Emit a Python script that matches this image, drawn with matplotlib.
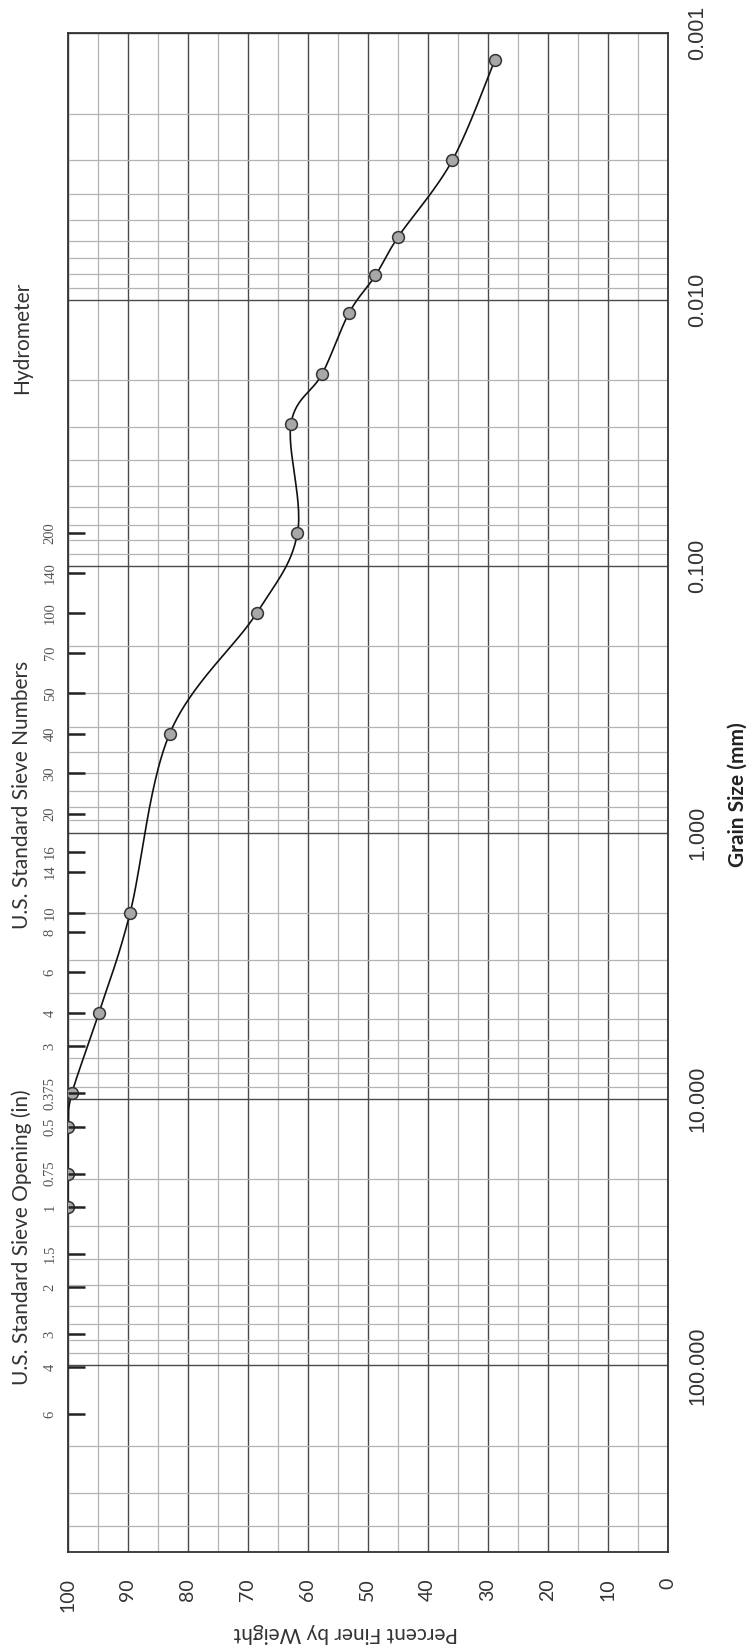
import numpy as np
import matplotlib.pyplot as plt
from matplotlib.ticker import FixedLocator, NullFormatter
import matplotlib.transforms as mtransforms

# grain size (mm) and percent finer
grain_mm = [25.4, 19.05, 12.7, 9.525, 4.75, 2.0, 0.425, 0.15, 0.075,
            0.0293, 0.0190, 0.0112, 0.0081, 0.0058, 0.0030, 0.00126]
pct_finer = [100.0, 100.0, 99.9, 99.3, 94.8, 89.6, 83.0, 68.5, 61.7,
             62.8, 57.6, 53.1, 48.7, 44.9, 35.9, 28.8]

opening_in = ["0.375", "0.5", "0.75", "1", "1.5", "2", "3", "4", "6"]
opening_mm = [9.525, 12.7, 19.05, 25.4, 38.1, 50.8, 76.2, 101.6, 152.4]
sieve_no = ["3", "4", "6", "8", "10", "14", "16", "20", "30", "40", "50",
            "70", "100", "140", "200"]
sieve_mm = [6.35, 4.75, 3.35, 2.36, 2.0, 1.4, 1.18, 0.85, 0.6, 0.425, 0.3,
            0.212, 0.15, 0.106, 0.075]

decades = [0.001, 0.01, 0.1, 1, 10, 100]
decade_labels = ["0.001", "0.010", "0.100", "1.000", "10.000", "100.000"]
pct_ticks = list(range(0, 101, 10))

SANS = ["Lato", "DejaVu Sans"]


def smooth_curve(x, y, n=30):
    # Excel-like smoothed line (Catmull-Rom style bezier)
    p = np.column_stack([x, y])
    p = np.vstack([p[0], p, p[-1]])
    out = []
    t = np.linspace(0, 1, n)[:, None]
    for i in range(1, len(p) - 2):
        p0, p1, p2, p3 = p[i - 1], p[i], p[i + 1], p[i + 2]
        c1 = p1 + (p2 - p0) / 6
        c2 = p2 - (p3 - p1) / 6
        seg = ((1 - t) ** 3) * p1 + 3 * ((1 - t) ** 2) * t * c1 \
            + 3 * (1 - t) * t ** 2 * c2 + t ** 3 * p2
        out.append(seg)
    out = np.vstack(out)
    return out[:, 0], out[:, 1]


fig = plt.figure(figsize=(7.49, 16.5), dpi=100)
ax = fig.add_axes([67.7 / 749, 1 - 1551.7 / 1650, 600 / 749, 1518.4 / 1650])

ax.set_yscale("log")
ax.set_xlim(100, 0)
ax.set_ylim(500, 0.001)

# grid
ax.set_xticks(pct_ticks)
ax.xaxis.set_minor_locator(FixedLocator(range(5, 100, 10)))
ax.yaxis.set_major_locator(FixedLocator(decades))
minors = [m * d for d in decades for m in range(2, 10) if m * d < 500]
ax.yaxis.set_minor_locator(FixedLocator(minors))
ax.yaxis.set_minor_formatter(NullFormatter())
ax.grid(which="major", color="#4a4a4a", lw=1.0)
ax.grid(which="minor", color="#b4b4b4", lw=0.9)
ax.set_axisbelow(True)

# percent labels (bottom), rotated with the page
ax.set_xticklabels([str(v) for v in pct_ticks], rotation=90,
                   fontsize=14, family=SANS, color="#333333")
ax.tick_params(axis="x", which="both", length=0, pad=19)

# grain size labels on the right
ax.yaxis.tick_right()
ax.set_yticklabels(decade_labels, rotation=90, va="center",
                   fontsize=15.5, family="Liberation Sans", color="#333333")
ax.tick_params(axis="y", which="both", length=0, pad=14)

for s in ax.spines.values():
    s.set_color("#333333")
    s.set_linewidth(1.3)

# sieve ticks on the left edge
sec = ax.secondary_yaxis("left", functions=(lambda v: v, lambda v: v))
sec.set_zorder(5)
sec.set_yticks(sieve_mm + opening_mm, sieve_no + opening_in)
sec.yaxis.set_minor_locator(FixedLocator([]))
sec.tick_params(direction="in", length=12, width=1.8, color="#222222",
                pad=8, labelsize=10.5, labelcolor="#555555")
for lab in sec.get_yticklabels():
    lab.set_rotation(90)
    lab.set_va("center")
    lab.set_family("Liberation Serif")
sec.spines["left"].set_visible(False)

# data
cx, cy = smooth_curve(pct_finer, np.log10(grain_mm))
ax.plot(cx, 10 ** cy, color="#111111", lw=1.2, zorder=3)
ax.plot(pct_finer, grain_mm, "o", ms=8.5, mfc="#a8a8a8", mec="#333333",
        mew=1.1, zorder=4)

# headings along the left edge
tr = mtransforms.blended_transform_factory(ax.transAxes, ax.transData)
hx = (22 - 67.7) / 600
ax.text(hx, 0.0139, "Hydrometer", transform=tr, rotation=90, ha="center",
        va="center", fontsize=15, family=SANS, color="#333333")
ax.text(hx, 0.72, "U.S. Standard Sieve Numbers", transform=tr, rotation=90,
        ha="center", va="center", fontsize=15, family=SANS, color="#333333")
ax.text(hx, 33, "U.S. Standard Sieve Opening (in)", transform=tr, rotation=90,
        ha="center", va="center", fontsize=15, family=SANS, color="#333333")

# axis titles
ax.text((738 - 67.7) / 600, 0.72, "Grain Size (mm)", transform=tr,
        rotation=90, ha="center", va="center", fontsize=15, family=SANS,
        fontweight="bold", color="#222222")
fig.text(346 / 749, 1 - 1633 / 1650, "Percent Finer by Weight", rotation=180,
         ha="center", va="center", fontsize=15, family=SANS, color="#333333")

fig.savefig("out.png", dpi=100)
